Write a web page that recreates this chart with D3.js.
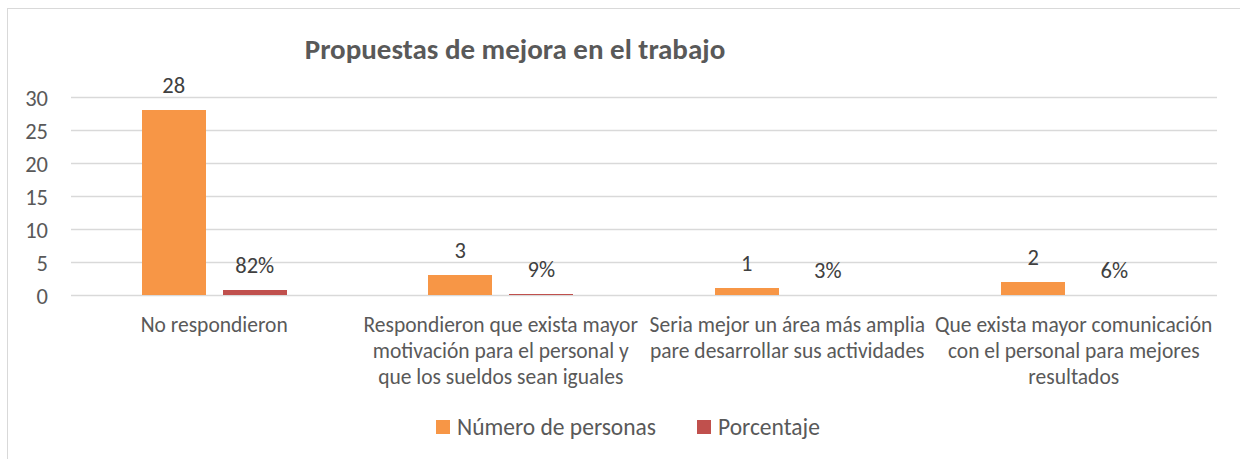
<!DOCTYPE html>
<html>
<head>
<meta charset="utf-8">
<script src="https://cdn.jsdelivr.net/npm/d3@7"></script>
<style>
  body { margin: 0; background: #fff; }
  text { font-family: "Carlito", "Open Sans", sans-serif; }
</style>
</head>
<body>
<div id="chart"></div>
<script>
// data
const categories = [
  "No respondieron",
  "Respondieron que exista mayor motivación para el personal y que los sueldos sean iguales",
  "Seria mejor un área más amplia pare desarrollar sus actividades",
  "Que exista mayor comunicación con el personal para mejores resultados"
];
const categoryLines = [
  ["No respondieron"],
  ["Respondieron que exista mayor", "motivación para el personal y", "que los sueldos sean iguales"],
  ["Seria mejor un área más amplia", "pare desarrollar sus actividades"],
  ["Que exista mayor comunicación", "con el personal para mejores", "resultados"]
];
const personas = [28, 3, 1, 2];
const porcentaje = [0.82, 0.09, 0.03, 0.06];
const seriesNames = ["Número de personas", "Porcentaje"];
const yTicks = [0, 5, 10, 15, 20, 25, 30];

const W = 1240, H = 459;
const colors = { "Número de personas": "#F79646", "Porcentaje": "#C0504D" };

const svg = d3.select('#chart').append('svg')
  .attr('width', W).attr('height', H);

// chart border (runs off right / bottom)
svg.append('rect')
  .attr('x', 7.5).attr('y', 8.5)
  .attr('width', W).attr('height', H)
  .attr('fill', 'none').attr('stroke', '#d9d9d9');

const plot = { left: 71, right: 1217, top: 97, bottom: 295 };

const x0 = d3.scaleBand()
  .domain(categories)
  .range([plot.left, plot.right]);

const x1 = d3.scaleBand()
  .domain(seriesNames)
  .range([0, 145])
  .paddingInner(0.21);
const groupOffset = (x0.bandwidth() - 145) / 2;

const y = d3.scaleLinear()
  .domain([0, 30])
  .range([plot.bottom, plot.top]);

// grid
svg.append('g')
  .selectAll('line')
  .data(yTicks)
  .join('line')
  .attr('x1', plot.left).attr('x2', plot.right)
  .attr('y1', d => y(d) + 0.5).attr('y2', d => y(d) + 0.5)
  .attr('stroke', '#d9d9d9').attr('stroke-width', 1.5);

// y axis labels
const yAxis = svg.append('g')
  .attr('transform', `translate(${plot.left},0)`)
  .call(d3.axisLeft(y).tickValues(yTicks).tickSize(0).tickPadding(23));
yAxis.select('.domain').remove();
yAxis.selectAll('text')
  .attr('fill', '#595959')
  .attr('dy', '0.36em')
  .style('font-size', '22.5px')
  .style('font-family', '"Carlito", "Open Sans", sans-serif');

// title
svg.append('text')
  .attr('x', 515).attr('y', 59)
  .attr('text-anchor', 'middle')
  .attr('fill', '#595959')
  .style('font-size', '29px')
  .style('font-weight', 'bold')
  .text('Propuestas de mejora en el trabajo');

// bars
const rows = categories.map((c, i) => [
  { cat: c, key: seriesNames[0], value: personas[i], label: String(personas[i]) },
  { cat: c, key: seriesNames[1], value: porcentaje[i], label: Math.round(porcentaje[i] * 100) + '%' }
]);

const groups = svg.append('g')
  .selectAll('g')
  .data(rows)
  .join('g')
  .attr('transform', d => `translate(${x0(d[0].cat) + groupOffset},0)`);

groups.selectAll('rect')
  .data(d => d)
  .join('rect')
  .attr('x', d => x1(d.key))
  .attr('width', x1.bandwidth())
  .attr('y', d => y(d.value))
  .attr('height', d => y(0) - y(d.value))
  .attr('shape-rendering', 'crispEdges')
  .attr('fill', d => colors[d.key]);

groups.selectAll('text')
  .data(d => d)
  .join('text')
  .attr('x', d => x1(d.key) + x1.bandwidth() / 2)
  .attr('y', d => y(d.value) - 17)
  .attr('text-anchor', 'middle')
  .attr('fill', '#404040')
  .style('font-size', '22.5px')
  .text(d => d.label);

// category labels
const catG = svg.append('g')
  .selectAll('text')
  .data(categories)
  .join('text')
  .attr('x', d => x0(d) + x0.bandwidth() / 2)
  .attr('y', 332)
  .attr('text-anchor', 'middle')
  .attr('fill', '#595959')
  .style('font-size', '21.5px');

catG.selectAll('tspan')
  .data((d, i) => categoryLines[i])
  .join('tspan')
  .attr('x', function() { return d3.select(this.parentNode).attr('x'); })
  .attr('dy', (d, i) => i === 0 ? 0 : 26)
  .text(d => d);

// legend
const legendX = [436, 697];
const legend = svg.append('g')
  .selectAll('g')
  .data(seriesNames)
  .join('g')
  .attr('transform', (d, i) => `translate(${legendX[i]},420)`);
legend.append('rect')
  .attr('width', 14).attr('height', 14)
  .attr('fill', d => colors[d]);
legend.append('text')
  .attr('x', 21).attr('y', 15)
  .attr('fill', '#595959')
  .style('font-size', '23.5px')
  .text(d => d);
</script>
</body>
</html>
